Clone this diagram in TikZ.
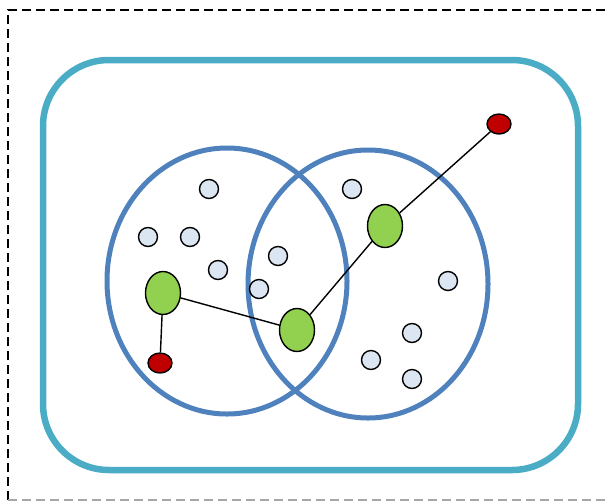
\documentclass[tikz,border=0pt]{standalone}
\usetikzlibrary{shapes.geometric}
\begin{document}
\begin{tikzpicture}[x=1pt,y=-1pt,
  outerbox/.style={draw={rgb,255:red,75;green,172;blue,198}, line width=6.5pt, rounded corners=66pt},
  setcirc/.style={draw={rgb,255:red,79;green,129;blue,189}, line width=5pt},
  dot/.style={circle, draw=black, line width=1.4pt, fill={rgb,255:red,220;green,230;blue,242}, minimum size=19pt, inner sep=0pt},
  gnode/.style={ellipse, draw=black, line width=1.4pt, fill={rgb,255:red,146;green,208;blue,80}, minimum width=35pt, minimum height=43pt, inner sep=0pt},
  rnode/.style={ellipse, draw=black, line width=1.4pt, fill={rgb,255:red,192;green,0;blue,0}, minimum width=24pt, minimum height=20pt, inner sep=0pt},
  link/.style={draw=black, line width=1.4pt},
  frame/.style={line width=2.2pt, dash pattern=on 9pt off 5pt}]
\useasboundingbox (0,0) rectangle (609,501);
\draw[frame] (8,500) -- (8,10) -- (615,10);
\draw[frame, black!35] (8,500) -- (615,500);
\draw[outerbox] (43,60) rectangle (578,470);
\draw[setcirc] (227,281) ellipse [x radius=120, y radius=133];
\draw[setcirc] (368,284) ellipse [x radius=120, y radius=134];
\node[dot] (d1) at (209,189) {};
\node[dot] (d2) at (148,237) {};
\node[dot] (d3) at (190,237) {};
\node[dot] (d4) at (218,270) {};
\node[dot] (d5) at (278,256) {};
\node[dot] (d6) at (259,289) {};
\node[dot] (d7) at (352,189) {};
\node[dot] (d8) at (448,281) {};
\node[dot] (d9) at (412,333) {};
\node[dot] (d10) at (371,360) {};
\node[dot] (d11) at (412,379) {};
\node[gnode] (g1) at (163,293) {};
\node[gnode] (g2) at (297,330) {};
\node[gnode] (g3) at (385,226) {};
\node[rnode] (r1) at (160,363) {};
\node[rnode] (r2) at (499,124) {};
\draw[link] (r1) -- (g1);
\draw[link] (g1) -- (g2);
\draw[link] (g2) -- (g3);
\draw[link] (g3) -- (r2);
\end{tikzpicture}
\end{document}
